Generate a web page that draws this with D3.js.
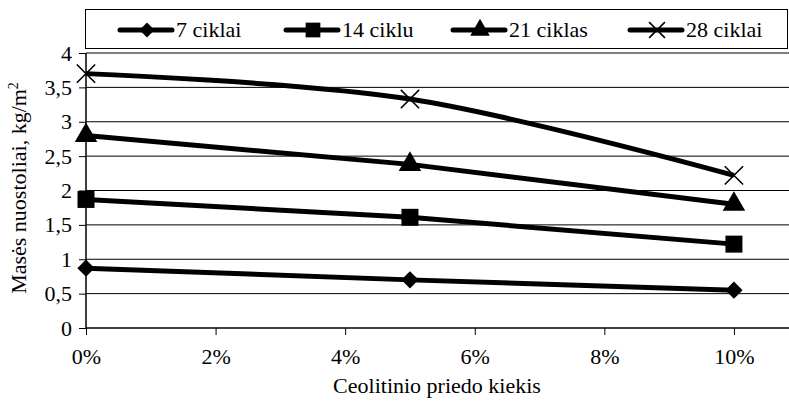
<!DOCTYPE html>
<html>
<head>
<meta charset="utf-8">
<script src="https://cdn.jsdelivr.net/npm/d3@7"></script>
<style>
body { margin: 0; background: #fff; }
</style>
</head>
<body>
<svg width="789" height="401" font-family="Liberation Serif"></svg>
<script>
var xVals = [0, 0.05, 0.10];
var seriesNames = ['7 ciklai', '14 ciklu', '21 ciklas', '28 ciklai'];
var s7 = [0.87, 0.70, 0.55];
var s14 = [1.87, 1.61, 1.22];
var s21 = [2.80, 2.38, 1.80];
var s28 = [3.70, 3.33, 2.22];
var yTicks = [0, 0.5, 1, 1.5, 2, 2.5, 3, 3.5, 4];
var xTicks = [0, 0.02, 0.04, 0.06, 0.08, 0.10];

var FONT = 'Liberation Serif';
var svg = d3.select('svg');
var margin = {left: 86, top: 53, right: 0, bottom: 73};
var width = 789 - margin.left;
var height = 401 - margin.top - margin.bottom;

var x = d3.scaleLinear().domain([0, 0.1085]).range([0, width]);
var y = d3.scaleLinear().domain([0, 4]).range([height, 0]);

var g = svg.append('g').attr('transform', 'translate(' + margin.left + ',' + margin.top + ')');

// grid
g.selectAll('.grid').data(yTicks.slice(1)).enter().append('line')
	.attr('x1', 0).attr('x2', width)
	.attr('y1', function(d) { return y(d); }).attr('y2', function(d) { return y(d); })
	.attr('stroke', '#000').attr('stroke-width', 1);

var ya = g.append('g').call(d3.axisLeft(y).tickValues(yTicks).tickSize(7).tickPadding(7)
	.tickFormat(function(d) { return String(d).replace('.', ','); }));
var xa = g.append('g').attr('transform', 'translate(0,' + height + ')')
	.call(d3.axisBottom(x).tickValues(xTicks).tickSize(7).tickPadding(13)
	.tickFormat(function(d) { return Math.round(d * 100) + '%'; }));
[ya, xa].forEach(function(a) {
	a.attr('font-family', FONT).attr('font-size', 22);
	a.selectAll('text').attr('fill', '#000');
	a.selectAll('line').attr('stroke', '#000');
	a.select('.domain').attr('stroke', '#000').attr('stroke-width', 1.5);
});
xa.select('.domain').attr('d', 'M0,0H' + width);
ya.select('.domain').attr('d', 'M0,' + height + 'V0');

// titles
svg.append('text').attr('x', 437).attr('y', 393).attr('text-anchor', 'middle')
	.attr('font-family', FONT).attr('font-size', 22).text('Ceolitinio priedo kiekis');
var yt = svg.append('text').attr('transform', 'translate(26,188) rotate(-90)')
	.attr('font-family', FONT).attr('text-anchor', 'middle').attr('font-size', 22);
yt.append('tspan').text('Masės nuostoliai, kg/m');
yt.append('tspan').attr('dy', -8).attr('font-size', 14).text('2');

var symbols = [d3.symbolSquare, d3.symbolSquare, d3.symbolTriangle, d3.symbolX];
var sizes = [150, 289, 220, 220];
var allData = [s7, s14, s21, s28];

function marker(sel, i, k) {
	sel.append('path')
		.attr('d', d3.symbol().type(symbols[i]).size(sizes[i] * k))
		.attr('transform', i == 0 ? 'rotate(45)' : null)
		.attr('fill', i == 3 ? 'none' : '#000')
		.attr('stroke', '#000')
		.attr('stroke-width', i == 3 ? 1.6 : 0);
}

allData.forEach(function(vals, i) {
	var pts = vals.map(function(v, j) { return [xVals[j], v]; });
	var line = d3.line()
		.x(function(d) { return x(d[0]); })
		.y(function(d) { return y(d[1]); })
		.curve(i == 3 ? d3.curveCatmullRom.alpha(0.5) : d3.curveLinear);
	g.append('path').datum(pts)
		.attr('fill', 'none').attr('stroke', '#000').attr('stroke-width', 5)
		.attr('stroke-linejoin', 'round').attr('d', line);
	pts.forEach(function(p) {
		var m = g.append('g').attr('transform', 'translate(' + x(p[0]) + ',' + y(p[1]) + ')');
		marker(m, i, 1);
	});
});

// legend
svg.append('rect').attr('x', 85.5).attr('y', 9.5).attr('width', 702).attr('height', 39)
	.attr('fill', '#fff').attr('stroke', '#000').attr('stroke-width', 1);
var legX = [120, 286, 453, 630];
seriesNames.forEach(function(name, i) {
	var lg = svg.append('g').attr('transform', 'translate(' + legX[i] + ',30)');
	lg.append('line').attr('x1', 0).attr('x2', 52).attr('stroke', '#000')
		.attr('stroke-width', 5).attr('stroke-linecap', 'round');
	var m = lg.append('g').attr('transform', 'translate(27,0)');
	marker(m, i, 0.75);
	lg.append('text').attr('x', 56).attr('y', 7).attr('font-family', FONT)
		.attr('font-size', 22).text(name);
});
</script>
</body>
</html>
